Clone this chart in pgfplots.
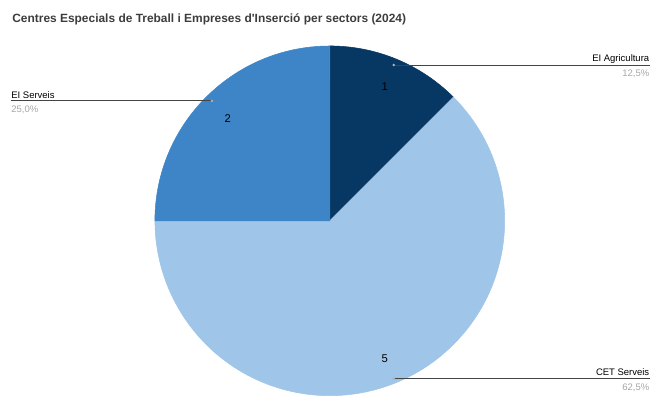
\documentclass[border=0pt]{standalone}
\usepackage{pgfplots}
\pgfplotsset{compat=1.18}
\usepackage{fontspec}
\setmainfont{Liberation Sans}[Ligatures=TeXOff]

\definecolor{cAgr}{HTML}{073763}
\definecolor{cCET}{HTML}{9FC5E8}
\definecolor{cSer}{HTML}{3D85C6}
\definecolor{cLine}{HTML}{444444}
\definecolor{cPct}{HTML}{A6A6A6}
\definecolor{cTitle}{HTML}{3C3C3C}

% values: EI Agricultura 1, CET Serveis 5, EI Serveis 2 (total 8)
\def\cx{330}
\def\cy{176}
\def\R{175}

\begin{document}
\begin{tikzpicture}
\begin{axis}[
    x=0.02cm, y=0.02cm,
    xmin=0, xmax=650, ymin=0, ymax=397,
    hide axis, clip=false,
    disabledatascaling,
  ]
  \path (0,0) rectangle (650,397);

  % slices, clockwise from the top
  \filldraw[cAgr, line width=0.3pt] (\cx,\cy) -- ({\cx+\R*cos(90)},{\cy+\R*sin(90)})
     arc[start angle=90, end angle={90-360*1/8}, radius=3.5cm] -- cycle;
  \filldraw[cCET, line width=0.3pt] (\cx,\cy) -- ({\cx+\R*cos(45)},{\cy+\R*sin(45)})
     arc[start angle=45, end angle={45-360*5/8}, radius=3.5cm] -- cycle;
  \filldraw[cSer, line width=0.3pt] (\cx,\cy) -- ({\cx+\R*cos(-180)},{\cy+\R*sin(-180)})
     arc[start angle=-180, end angle={-180-360*2/8}, radius=3.5cm] -- cycle;

  % values inside
  \node[font=\fontsize{6.4}{7}\selectfont] at (385,310) {1};
  \node[font=\fontsize{6.4}{7}\selectfont] at (228,278) {2};
  \node[font=\fontsize{6.4}{7}\selectfont] at (385,38) {5};

  % leader lines
  \draw[cLine, line width=0.5pt] (394,332) -- (650,332);
  \draw[cLine, line width=0.5pt] (11,296) -- (212,296);
  \draw[cLine, line width=0.5pt] (394,18) -- (650,18);
  \fill[gray!60] (394,332) circle[radius=0.8pt];
  \fill[gray!60] (212,296) circle[radius=0.8pt];
  \fill[gray!60] (394,18) circle[radius=0.8pt];

  % outside labels
  \node[anchor=base east, inner sep=0pt, font=\fontsize{5.4}{6}\selectfont] at (650,335) {EI Agricultura};
  \node[anchor=base east, inner sep=0pt, text=cPct, font=\fontsize{5.4}{6}\selectfont] at (650,320) {12,5\%};
  \node[anchor=base west, inner sep=0pt, font=\fontsize{5.4}{6}\selectfont] at (11,298) {EI Serveis};
  \node[anchor=base west, inner sep=0pt, text=cPct, font=\fontsize{5.4}{6}\selectfont] at (11,284) {25,0\%};
  \node[anchor=base east, inner sep=0pt, font=\fontsize{5.4}{6}\selectfont] at (650,21) {CET Serveis};
  \node[anchor=base east, inner sep=0pt, text=cPct, font=\fontsize{5.4}{6}\selectfont] at (650,6) {62,5\%};

  % title
  \node[anchor=base west, inner sep=0pt, text=cTitle, font=\bfseries\fontsize{6.8}{8}\selectfont] at (12,374) {Centres Especials de Treball i Empreses d'Inserció per sectors (2024)};
\end{axis}
\end{tikzpicture}
\end{document}
